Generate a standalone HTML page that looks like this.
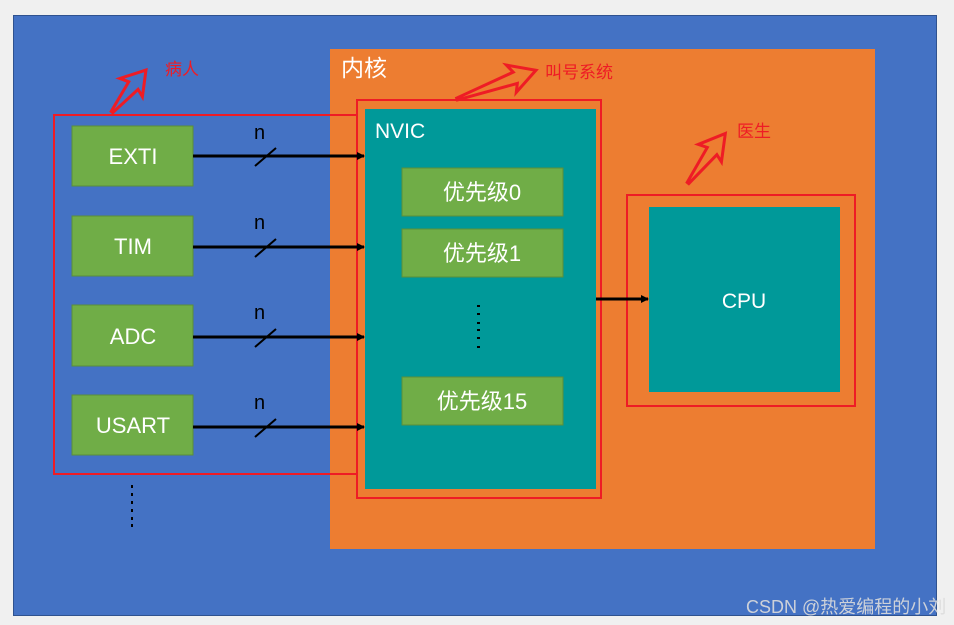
<!DOCTYPE html>
<html><head><meta charset="utf-8"><style>
html,body{margin:0;padding:0;background:#f0f0f0;}
svg{display:block}
text{font-family:"Liberation Sans","Noto Sans CJK SC",sans-serif;}
</style></head><body>
<svg width="954" height="625" viewBox="0 0 954 625" xmlns="http://www.w3.org/2000/svg">
<defs>
<marker id="ah" markerWidth="8" markerHeight="8" refX="7" refY="4" orient="auto" markerUnits="userSpaceOnUse">
<path d="M0,0 L8,4 L0,8 z" fill="#000"/></marker>
</defs>
<rect x="13.5" y="15.5" width="923" height="600" fill="#4472c4" stroke="#2f528f" stroke-width="1"/>
<rect x="330" y="49" width="545" height="500" fill="#ed7d31"/>
<text x="341" y="76" font-size="23" fill="#fff">内核</text>
<rect x="365" y="109" width="231" height="380" fill="#009999"/>
<rect x="357" y="100" width="244" height="398" fill="none" stroke="#ee1c25" stroke-width="2"/>
<text x="375" y="138" font-size="21" fill="#fff">NVIC</text>
<g fill="#70ad47" stroke="#5a8f3a" stroke-width="1">
<rect x="402" y="168" width="161" height="48"/>
<rect x="402" y="229" width="161" height="48"/>
<rect x="402" y="377" width="161" height="48"/>
</g>
<g font-size="22" fill="#fff" text-anchor="middle">
<text x="482" y="200">优先级0</text>
<text x="482" y="261">优先级1</text>
<text x="482" y="409">优先级15</text>
</g>
<g fill="#000"><rect x="477" y="305" width="3" height="2"/><rect x="477" y="313" width="3" height="2"/><rect x="477" y="322" width="3" height="2"/><rect x="477" y="329" width="3" height="2"/><rect x="477" y="337" width="3" height="2"/><rect x="477" y="346" width="3" height="2"/></g>
<rect x="649" y="207" width="191" height="185" fill="#009999"/>
<rect x="627" y="195" width="228" height="211" fill="none" stroke="#ee1c25" stroke-width="2"/>
<text x="744" y="308" font-size="21" fill="#fff" text-anchor="middle">CPU</text>
<line x1="596" y1="299" x2="648" y2="299" stroke="#000" stroke-width="3" marker-end="url(#ah)"/>
<rect x="54" y="115" width="303" height="359" fill="none" stroke="#ee1c25" stroke-width="2"/>
<g fill="#70ad47" stroke="#5a8f3a" stroke-width="1">
<rect x="72" y="126" width="121" height="60"/>
<rect x="72" y="216" width="121" height="60"/>
<rect x="72" y="305" width="121" height="61"/>
<rect x="72" y="395" width="121" height="60"/>
</g>
<g font-size="22" fill="#fff" text-anchor="middle">
<text x="133" y="164">EXTI</text>
<text x="133" y="254">TIM</text>
<text x="133" y="344">ADC</text>
<text x="133" y="433">USART</text>
</g>
<g stroke="#000" stroke-width="3">
<line x1="193" y1="156" x2="364" y2="156" marker-end="url(#ah)"/>
<line x1="193" y1="247" x2="364" y2="247" marker-end="url(#ah)"/>
<line x1="193" y1="337" x2="364" y2="337" marker-end="url(#ah)"/>
<line x1="193" y1="427" x2="364" y2="427" marker-end="url(#ah)"/>
</g>
<g stroke="#000" stroke-width="2">
<line x1="255" y1="166" x2="276" y2="148"/>
<line x1="255" y1="257" x2="276" y2="239"/>
<line x1="255" y1="347" x2="276" y2="329"/>
<line x1="255" y1="437" x2="276" y2="419"/>
</g>
<g font-size="20" fill="#000">
<text x="254" y="139">n</text><text x="254" y="229">n</text><text x="254" y="319">n</text><text x="254" y="409">n</text>
</g>
<g fill="#000"><rect x="131" y="485" width="2" height="3"/><rect x="131" y="493" width="2" height="3"/><rect x="131" y="501" width="2" height="3"/><rect x="131" y="509" width="2" height="3"/><rect x="131" y="517" width="2" height="3"/><rect x="131" y="524" width="2" height="3"/></g>
<g fill="none" stroke="#ee1c25" stroke-width="3" stroke-linejoin="miter">
<polygon transform="translate(112,112) rotate(-51)" points="0,-1 34,-6 31,-15 54,0 31,14 34,6 0,1"/>
<polygon transform="translate(457,99) rotate(-20)" points="0,-1 62,-6 58,-15 84,0 58,14 62,6 0,1"/>
<polygon transform="translate(688,183) rotate(-53)" points="0,-1 40,-6 37,-15 62,0 37,14 40,6 0,1"/>
</g>
<g font-size="17" fill="#ee1c25">
<text x="165" y="75">病人</text>
<text x="545" y="78">叫号系统</text>
<text x="737" y="137">医生</text>
</g>
<text x="746" y="613" font-size="18" fill="#dcdcdc" opacity="0.9">CSDN @热爱编程的小刘</text>
</svg>
</body></html>
